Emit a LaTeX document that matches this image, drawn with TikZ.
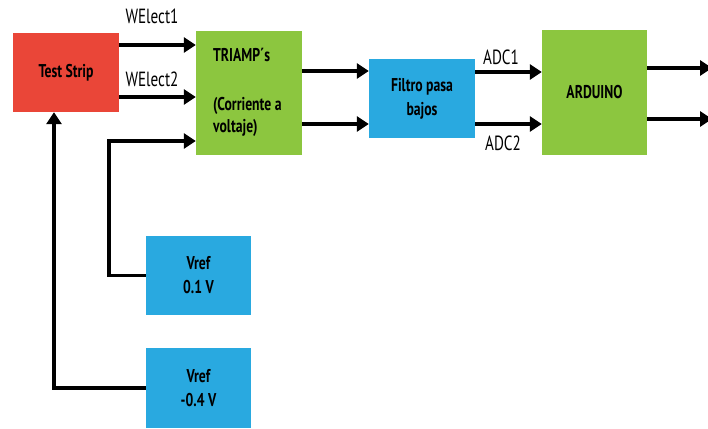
\documentclass[tikz,border=0pt]{standalone}
\usepackage{fontspec}
\setmainfont[FakeStretch=0.74]{PT Sans}
\usetikzlibrary{arrows.meta}
\definecolor{cred}{HTML}{EA4638}
\definecolor{cgreen}{HTML}{8CC63F}
\definecolor{cblue}{HTML}{29A9E0}
\tikzset{
  blk/.style={rectangle, inner sep=0pt, font=\fontsize{18.5}{24}\selectfont\bfseries, text=black, align=center},
  lbl/.style={font=\fontsize{20.5}{24}\selectfont, inner sep=0pt},
  arr/.style={line width=3.8pt, -{Triangle[length=12pt,width=15pt]}},
  ln/.style={line width=3.8pt}
}
\begin{document}
\begin{tikzpicture}[x=1pt,y=-1pt]
\useasboundingbox (0,0) rectangle (708,428);
\node[blk, fill=cred, minimum width=106pt, minimum height=79pt] (ts) at (66,72.5) {Test Strip};
\node[blk, fill=cgreen, minimum width=106pt, minimum height=124pt] (tri) at (249,93) {};
\node[blk, anchor=west] (t1) at (213,55) {TRIAMP´s};
\node[blk, anchor=west] (t2) at (213,106) {(Corriente a};
\node[blk, anchor=west] (t3) at (213,128) {voltaje)};
\node[blk, fill=cblue, minimum width=106pt, minimum height=79pt] (fi) at (422,98.5) {Filtro pasa\\bajos};
\node[blk, fill=cgreen, minimum width=105pt, minimum height=125pt] (ar) at (594.5,92.5) {ARDUINO};
\node[blk, fill=cblue, minimum width=105pt, minimum height=79pt] (v1) at (198.5,275.5) {Vref\\0.1 V};
\node[blk, fill=cblue, minimum width=105pt, minimum height=80pt] (v2) at (198.5,388) {Vref\\-0.4 V};

\node[lbl] (w1) at (152,16) {WElect1};
\node[lbl] (w2) at (152,79) {WElect2};
\node[lbl] (a1) at (501,57) {ADC1};
\node[lbl] (a2) at (503,143) {ADC2};

\draw[arr] (ts.east |- 0,45) -- (tri.west |- 0,45);
\draw[arr] (ts.east |- 0,97) -- (tri.west |- 0,97);
\draw[arr] (tri.east |- 0,71) -- (fi.west |- 0,71);
\draw[arr] (tri.east |- 0,124) -- (fi.west |- 0,124);
\draw[arr] (fi.east |- 0,72) -- (ar.west |- 0,72);
\draw[arr] (fi.east |- 0,124) -- (ar.west |- 0,124);
\coordinate (o1) at (712,68);
\coordinate (o2) at (712,119);
\draw[arr] (ar.east |- o1) -- (o1);
\draw[arr] (ar.east |- o2) -- (o2);
\draw[arr] (v1.west) -- (109,275.5) -- (109,141) -- (tri.west |- 0,141);
\draw[arr] (v2.west) -- (54,388) -- (ts.south -| 54,0);
\end{tikzpicture}
\end{document}
